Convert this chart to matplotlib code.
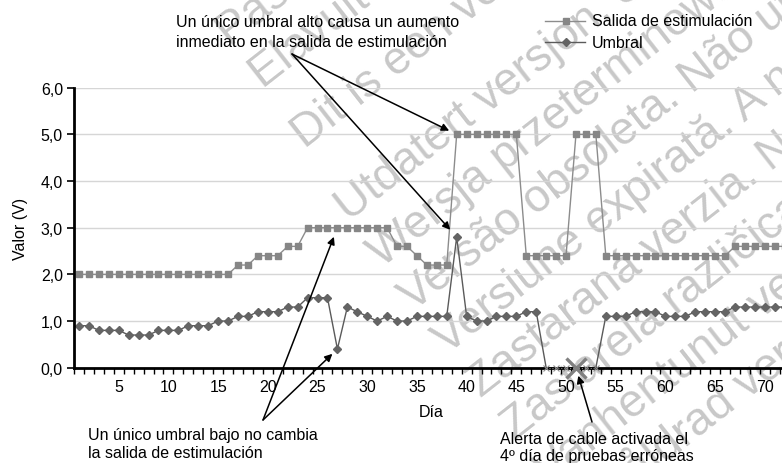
import matplotlib
matplotlib.use("Agg")
import matplotlib.pyplot as plt
from matplotlib.lines import Line2D
from matplotlib.ticker import FixedLocator, FuncFormatter
import numpy as np

plt.rcParams['font.family'] = ['Liberation Sans', 'DejaVu Sans']

# ---- data -------------------------------------------------------------
dias = list(range(1, 73))

salida_estimulacion = [
    2.0, 2.0, 2.0, 2.0, 2.0, 2.0, 2.0, 2.0, 2.0, 2.0,   # 1-10
    2.0, 2.0, 2.0, 2.0, 2.0, 2.0, 2.2, 2.2, 2.4, 2.4,   # 11-20
    2.4, 2.6, 2.6, 3.0, 3.0, 3.0, 3.0, 3.0, 3.0, 3.0,   # 21-30
    3.0, 3.0, 2.6, 2.6, 2.4, 2.2, 2.2, 2.2, 5.0, 5.0,   # 31-40
    5.0, 5.0, 5.0, 5.0, 5.0, 2.4, 2.4, 2.4, 2.4, 2.4,   # 41-50
    5.0, 5.0, 5.0, 2.4, 2.4, 2.4, 2.4, 2.4, 2.4, 2.4,   # 51-60
    2.4, 2.4, 2.4, 2.4, 2.4, 2.4, 2.6, 2.6, 2.6, 2.6,   # 61-70
    2.6, 2.6,                                           # 71-72
]

# None marks a day with an erroneous impedance test (plotted on the axis)
umbral = [
    0.9, 0.9, 0.8, 0.8, 0.8, 0.7, 0.7, 0.7, 0.8, 0.8,   # 1-10
    0.8, 0.9, 0.9, 0.9, 1.0, 1.0, 1.1, 1.1, 1.2, 1.2,   # 11-20
    1.2, 1.3, 1.3, 1.5, 1.5, 1.5, 0.4, 1.3, 1.2, 1.1,   # 21-30
    1.0, 1.1, 1.0, 1.0, 1.1, 1.1, 1.1, 1.1, 2.8, 1.1,   # 31-40
    1.0, 1.0, 1.1, 1.1, 1.1, 1.2, 1.2, None, None, None,  # 41-50
    None, None, None, 1.1, 1.1, 1.1, 1.2, 1.2, 1.2, 1.1,  # 51-60
    1.1, 1.1, 1.2, 1.2, 1.2, 1.2, 1.3, 1.3, 1.3, 1.3,   # 61-70
    1.3, 1.3,                                           # 71-72
]

dia_alerta = 51          # 4th consecutive day of erroneous tests
etiquetas_x = [5, 10, 15, 20, 25, 30, 35, 40, 45, 50, 55, 60, 65, 70]
etiquetas_y = [0, 1, 2, 3, 4, 5, 6]

W, H = 782, 464
fig = plt.figure(figsize=(W / 100, H / 100), dpi=100)


def px(x, y):
    """Figure-fraction coordinates from pixel position (origin top-left)."""
    return x / W, 1 - y / H


ax = fig.add_axes([74 / W, 1 - 368.7 / H, (W - 74) / W, (368.7 - 88.7) / H])
ax.patch.set_alpha(0)

# ---- watermark --------------------------------------------------------
# slanted lines; q = offset of each baseline across the slant,
# r = where the line starts along it (both in pixels)
marcas = [
    "Pasenusi versija. Nenaudokite.",
    "Elavult verzió. Ne használja!",
    "Dit is een verlopen versie. Niet gebruiken.",
    "Utdatert versjon. Skal ikke brukes.",
    "Wersja przeterminowana. Nie używać.",
    "Versão obsoleta. Não utilizar.",
    "Versiune expirată. A nu se utiliza.",
    "Zastaraná verzia. Nepoužívať.",
    "Zastarela različica. Ne uporabite.",
    "Vanhentunut versio. Älä käytä.",
    "Föråldrad version. Använd ej.",
]
desplaz_q = [178, 232, 305, 390, 446, 500, 555, 610, 665, 720, 775]
inicio_r = [152, 152, 148, 138, 136, 134, 134, 134, 134, 134, 134]
angulo = 38
ca, sa = np.cos(np.deg2rad(angulo)), np.sin(np.deg2rad(angulo))
for t, q, r in zip(marcas, desplaz_q, inicio_r):
    xs = ca * r + sa * q
    ys = -sa * r + ca * q
    ax.text(*px(xs, ys), t, transform=fig.transFigure, rotation=angulo,
            rotation_mode='anchor', ha='left', va='baseline',
            fontsize=33, color='#c8c8c8', zorder=0.5, clip_on=False)

# ---- series -----------------------------------------------------------
x = np.array(dias, dtype=float)
s = np.array(salida_estimulacion, dtype=float)
u = np.array([0.0 if v is None else v for v in umbral])
validos = np.array([v is not None for v in umbral])

ax.plot(x, s, color='#8c8c8c', lw=1.0, marker='s', markersize=4.6,
        markerfacecolor='#868686', markeredgecolor='#868686', zorder=3,
        clip_on=False)
ax.plot(x, u, color='#5a5a5a', lw=1.0, zorder=3, clip_on=False)
ax.plot(x[validos], u[validos], ls='none', marker='D', markersize=4.0,
        markerfacecolor='#646464', markeredgecolor='#646464', zorder=4,
        clip_on=False)
ax.plot(x[~validos], u[~validos], ls=':', color='#8a8a8a', lw=0.8,
        marker='x', markersize=4, mew=0.8, zorder=5, clip_on=False)
ax.plot([dia_alerta], [0], ls='none', marker='x', markersize=14, mew=2.4,
        color='#808080', zorder=6, clip_on=False)

# ---- axes -------------------------------------------------------------
ax.set_xlim(0.5, 0.5 + (W - 74) / 9.94)
ax.set_ylim(0, 6)
for side in ('top', 'right'):
    ax.spines[side].set_visible(False)
for side in ('left', 'bottom'):
    ax.spines[side].set_linewidth(2.0)
    ax.spines[side].set_color('black')
    ax.spines[side].set_zorder(4.5)

ax.xaxis.set_major_locator(FixedLocator(etiquetas_x))
ax.xaxis.set_minor_locator(FixedLocator(np.arange(0.5, 73, 1.0)))
ax.tick_params(axis='x', which='major', length=0, pad=8, labelsize=11.5)
ax.tick_params(axis='x', which='minor', length=4, width=1, color='black',
               direction='out')
ax.yaxis.set_major_locator(FixedLocator(etiquetas_y))
ax.yaxis.set_major_formatter(FuncFormatter(lambda v, p: f"{v:.1f}".replace('.', ',')))
ax.tick_params(axis='y', which='major', length=5, width=1.2, pad=3,
               labelsize=11.5, direction='out')
ax.grid(axis='y', color='#d6d6d6', lw=1.0, zorder=1)
ax.set_axisbelow(True)

fig.text(*px(20, 228.7), 'Valor (V)', rotation=90, ha='center', va='center',
         fontsize=11.5)
fig.text(*px(431, 413), 'Día', ha='center', va='center', fontsize=11.5)

# ---- legend -----------------------------------------------------------
for yy, (col, mk, mc, ms) in zip(
        (21.7, 43.3),
        (('#8c8c8c', 's', '#868686', 4.6), ('#5a5a5a', 'D', '#646464', 4.0))):
    (xa, ya), (xb, _) = px(545, yy), px(585, yy)
    fig.add_artist(Line2D([xa, xb], [ya, ya], transform=fig.transFigure,
                          color=col, lw=1.0))
    fig.add_artist(Line2D([px(566, yy)[0]], [ya], transform=fig.transFigure,
                          ls='none', marker=mk, markersize=ms,
                          markerfacecolor=mc, markeredgecolor=mc))
fig.text(*px(592, 21.7), 'Salida de estimulación', ha='left', va='center',
         fontsize=11.5)
fig.text(*px(592, 43.3), 'Umbral', ha='left', va='center', fontsize=11.5)

# ---- annotations ------------------------------------------------------
fig.text(*px(176, 32.5), 'Un único umbral alto causa un aumento\n'
         'inmediato en la salida de estimulación', ha='left', va='center',
         fontsize=11.5, linespacing=1.45)
fig.text(*px(88, 445), 'Un único umbral bajo no cambia\n'
         'la salida de estimulación', ha='left', va='center',
         fontsize=11.5, linespacing=1.25)
fig.text(*px(500, 448), 'Alerta de cable activada el\n'
         '4º día de pruebas erróneas', ha='left', va='center',
         fontsize=11.5, linespacing=1.2)

flecha = dict(arrowstyle='-|>', color='black', lw=1.1, mutation_scale=11,
              shrinkA=0)


def flecha_a(xy, origen, encoge):
    ax.annotate('', xy=xy, xycoords='data',
                xytext=px(*origen), textcoords='figure fraction',
                arrowprops=dict(flecha, shrinkB=encoge),
                annotation_clip=False, zorder=7)


flecha_a((39, salida_estimulacion[38]), (292, 55), 6)
flecha_a((39, umbral[38]), (292, 55), 7)
flecha_a((27, salida_estimulacion[26]), (263, 421), 7)
flecha_a((27, umbral[26]), (263, 421), 5)
flecha_a((dia_alerta, 0), (592, 423), 6)

fig.savefig('out.png', dpi=100)
